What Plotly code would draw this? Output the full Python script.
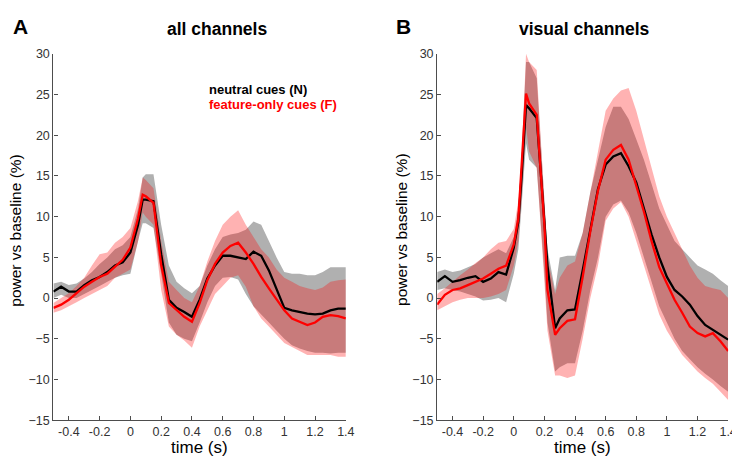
import plotly.graph_objects as go
import numpy as np

# ---- data ----
# panel A : all channels
t_a = [-0.5, -0.45, -0.4, -0.35, -0.3, -0.25, -0.2, -0.15, -0.1, -0.05, 0, 0.05, 0.08, 0.1,
       0.15, 0.2, 0.25, 0.3, 0.35, 0.4, 0.45, 0.5, 0.55, 0.6, 0.65, 0.7, 0.75, 0.8, 0.85, 0.9,
       0.95, 1.0, 1.05, 1.1, 1.15, 1.2, 1.25, 1.3, 1.35, 1.4]
neutral_a = [0.8, 1.4, 0.8, 0.8, 1.6, 2.2, 2.6, 3.2, 4.0, 4.4, 5.6, 9.0, 12.1, 12.1, 11.9, 5.4,
             -0.2, -1.2, -1.7, -2.3, -0.2, 2.4, 4.0, 5.2, 5.2, 5.0, 4.8, 5.7, 5.2, 3.4, 1.0,
             -1.2, -1.5, -1.7, -1.9, -2.0, -1.9, -1.5, -1.3, -1.3]
neutral_a_hi = [1.8, 2.0, 1.6, 1.8, 2.4, 3.2, 4.2, 5.0, 6.0, 6.5, 7.5, 11.0, 14.8, 15.2, 15.2,
                9.0, 4.0, 2.0, 1.2, 0.6, 1.5, 4.0, 6.0, 7.5, 7.8, 8.0, 8.4, 9.4, 9.0, 7.0, 5.0,
                3.2, 3.0, 3.0, 2.8, 2.8, 3.2, 3.8, 3.8, 3.8]
neutral_a_lo = [0.0, 0.4, 0.0, 0.0, 0.5, 1.0, 1.5, 2.0, 2.5, 2.8, 3.0, 7.0, 9.2, 9.2, 8.6, 3.0,
                -3.0, -4.5, -5.0, -5.3, -3.0, -0.5, 1.5, 2.5, 2.6, 2.3, 0.5, -1.0, -2.0, -3.0,
                -4.0, -5.0, -5.8, -6.2, -6.5, -6.7, -6.7, -6.8, -6.7, -6.7]
feature_a = [-1.2, -0.8, -0.2, 0.6, 1.4, 2.0, 2.6, 3.0, 3.8, 4.7, 6.2, 9.8, 12.7, 12.5, 11.7,
             4.1, -0.6, -1.5, -2.3, -2.9, -0.6, 2.2, 4.2, 5.6, 6.4, 6.8, 5.6, 4.2, 2.6, 1.2,
             -0.2, -1.5, -2.5, -2.9, -3.3, -3.0, -2.3, -2.1, -2.2, -2.5]
feature_a_hi = [-0.6, 0.0, 0.6, 1.5, 2.5, 4.0, 5.4, 5.6, 6.8, 7.5, 8.6, 12.0, 14.8, 14.5, 13.5,
                7.0, 2.0, 1.0, 0.0, -0.5, 1.5, 4.5, 7.0, 9.0, 10.0, 10.8, 9.0, 7.5, 6.0, 5.0,
                3.5, 2.5, 2.0, 1.5, 1.2, 1.0, 1.3, 2.0, 2.2, 2.3]
feature_a_lo = [-1.8, -1.5, -1.0, -0.5, 0.0, 0.5, 1.0, 1.5, 2.5, 3.0, 3.5, 7.0, 10.5, 10.0, 9.0,
                1.0, -3.5, -4.5, -5.2, -6.1, -3.5, -1.5, 0.5, 1.5, 2.5, 2.8, 1.4, -1.0, -2.5,
                -3.5, -4.5, -5.5, -6.0, -6.5, -7.0, -7.0, -7.0, -7.0, -7.2, -7.2]

# panel B : visual channels
t_b = [-0.5, -0.45, -0.4, -0.35, -0.3, -0.25, -0.2, -0.15, -0.1, -0.05, 0, 0.03, 0.05, 0.08,
       0.1, 0.15, 0.2, 0.22, 0.27, 0.3, 0.35, 0.4, 0.45, 0.5, 0.55, 0.6, 0.65, 0.7, 0.75, 0.8,
       0.85, 0.9, 0.95, 1.0, 1.05, 1.1, 1.15, 1.2, 1.25, 1.3, 1.35, 1.4]
neutral_b = [2.0, 2.7, 2.0, 2.2, 2.5, 2.7, 2.0, 2.4, 3.2, 2.9, 6.2, 9.4, 14.6, 23.7, 23.3, 22.1,
             9.4, 4.0, -3.7, -2.5, -1.5, -1.4, 3.4, 8.2, 13.4, 16.4, 17.4, 17.8, 16.2, 14.2,
             11.0, 7.8, 5.0, 2.6, 1.0, 0.2, -0.8, -2.2, -3.3, -3.9, -4.5, -5.1]
neutral_b_hi = [3.2, 3.5, 3.2, 3.4, 3.8, 4.2, 5.0, 5.5, 6.0, 5.5, 7.5, 11, 17, 29, 29, 27, 12, 6,
                1, 5.0, 5.2, 5.2, 8, 13, 17, 21, 23.5, 23.5, 22, 19.5, 17, 14, 11, 9, 7, 6, 5,
                4, 3.5, 3, 2.2, 1.5]
neutral_b_lo = [1.0, 1.2, 1.0, 0.8, 0.5, 0.2, -0.3, -0.2, 0.0, -0.5, 3.0, 6, 11, 19, 17, 16, 3,
                -3, -9, -8.5, -8, -8, -4, 1, 5, 10, 11.5, 12, 10.5, 8, 5, 2, -1, -3, -5, -6.5,
                -7.5, -8.5, -9.3, -10, -10.8, -11.5]
feature_b = [-0.8, 0.4, 1.0, 1.2, 1.6, 2.0, 2.4, 3.0, 3.6, 4.0, 6.6, 9.8, 15.4, 25.1, 23.9, 22.5,
             9.0, 1.0, -4.5, -3.7, -2.8, -2.6, 2.6, 8.2, 13.2, 17.0, 18.2, 18.8, 17.0, 13.8,
             10.6, 7.0, 3.8, 1.8, -0.2, -1.8, -3.5, -4.3, -4.7, -4.3, -5.3, -6.5]
feature_b_hi = [0.5, 1.2, 2.0, 2.8, 3.5, 4.3, 5.0, 6.0, 6.8, 7.0, 8.5, 12, 17, 30, 29, 28, 12, 5,
                0.5, 2.5, 4.0, 4.5, 8, 13, 18, 23, 24.5, 25.5, 25.8, 23, 19.5, 16, 12.5, 10, 8,
                6, 4, 2.5, 1.5, 1.2, 1.0, 0.0]
feature_b_lo = [-1.5, -1.0, -0.5, -0.2, 0.0, 0.0, 0.0, 0.2, 0.5, 1.0, 4.0, 7, 12, 21, 18, 16, 2,
                -4, -9.5, -9.5, -9.8, -9.5, -5, 0, 4, 9.5, 11, 11.8, 10, 7, 4, 1, -2, -4, -5.5,
                -7, -8, -9, -9.8, -10.5, -11.5, -12.5]

x_ticks = [-0.4, -0.2, 0, 0.2, 0.4, 0.6, 0.8, 1, 1.2, 1.4]
x_ticktext = ['-0.4', '-0.2', '0', '0.2', '0.4', '0.6', '0.8', '1', '1.2', '1.4']
y_ticks = [-15, -10, -5, 0, 5, 10, 15, 20, 25, 30]

FONT = 'Liberation Sans, Arial, sans-serif'
GRAY_FILL = 'rgb(176,176,176)'
RED_FILL = 'rgba(255,0,0,0.3)'

fig = go.Figure()


def band(t, lo, hi, color, xa, ya):
    fig.add_trace(go.Scatter(x=list(t) + list(t)[::-1], y=list(hi) + list(lo)[::-1],
                             fill='toself', fillcolor=color, mode='none',
                             hoverinfo='skip', showlegend=False, xaxis=xa, yaxis=ya))


def line(t, y, color, xa, ya):
    fig.add_trace(go.Scatter(x=t, y=y, mode='lines', line=dict(color=color, width=2.3),
                             showlegend=False, xaxis=xa, yaxis=ya))


panels = [
    (t_a, neutral_a, neutral_a_lo, neutral_a_hi, feature_a, feature_a_lo, feature_a_hi, 'x', 'y'),
    (t_b, neutral_b, neutral_b_lo, neutral_b_hi, feature_b, feature_b_lo, feature_b_hi, 'x2', 'y2'),
]
for t, n, nlo, nhi, f, flo, fhi, xa, ya in panels:
    band(t, nlo, nhi, GRAY_FILL, xa, ya)
    band(t, flo, fhi, RED_FILL, xa, ya)
    line(t, n, 'black', xa, ya)
    line(t, f, '#ff0000', xa, ya)

W, H = 740, 460


def px_x(p):
    return p / W


def px_y(p):
    return 1 - p / H


axis_common = dict(showline=True, linecolor='#4d4d4d', linewidth=1.3, ticks='inside',
                   ticklen=4, tickcolor='#4d4d4d', showgrid=False, zeroline=False,
                   tickfont=dict(family=FONT, size=12.5, color='#333333'))

xa_common = dict(axis_common, range=[-0.5, 1.4], tickvals=x_ticks, ticktext=x_ticktext)
ya_common = dict(axis_common, range=[-15, 30], tickvals=y_ticks)

fig.update_layout(
    width=W, height=H,
    margin=dict(l=0, r=0, t=0, b=0),
    plot_bgcolor='white', paper_bgcolor='white',
    xaxis=dict(xa_common, domain=[px_x(46), px_x(342)], anchor='y'),
    yaxis=dict(ya_common, domain=[px_y(418), px_y(40)], anchor='x'),
    xaxis2=dict(xa_common, domain=[px_x(434.5), px_x(729)], anchor='y2'),
    yaxis2=dict(ya_common, domain=[px_y(418), px_y(40)], anchor='x2'),
)

annotations = [
    # panel letters and titles
    dict(text='<b>A</b>', x=px_x(3), y=px_y(12), xanchor='left', font=dict(size=21)),
    dict(text='<b>B</b>', x=px_x(391), y=px_y(12), xanchor='left', font=dict(size=21)),
    dict(text='<b>all channels</b>', x=px_x(212), y=px_y(14), font=dict(size=17.5)),
    dict(text='<b>visual channels</b>', x=px_x(584), y=px_y(14), font=dict(size=17.5)),
    # axis titles
    dict(text='power vs baseline (%)', x=px_x(2), y=px_y(222), xanchor='left', xshift=-5,
         textangle=-90, font=dict(size=15.5)),
    dict(text='power vs baseline (%)', x=px_x(396), y=px_y(222), xanchor='left', xshift=-8,
         textangle=-90, font=dict(size=15.5)),
    dict(text='time (s)', x=px_x(194), y=px_y(446), font=dict(size=17)),
    dict(text='time (s)', x=px_x(582), y=px_y(446), font=dict(size=17)),
    # legend
    dict(text='<b>neutral cues (N)</b>', x=px_x(201), y=px_y(77), xanchor='left',
         font=dict(size=13, color='black')),
    dict(text='<b>feature-only cues (F)</b>', x=px_x(201), y=px_y(92), xanchor='left',
         font=dict(size=13, color='#ff0000')),
]
for a in annotations:
    a.setdefault('xanchor', 'center')
    a['xref'] = 'paper'
    a['yref'] = 'paper'
    a['yanchor'] = 'middle'
    a['showarrow'] = False
    f = a['font']
    f.setdefault('color', 'black')
    f['family'] = FONT
fig.update_layout(annotations=annotations)

fig.write_html("out.html")
